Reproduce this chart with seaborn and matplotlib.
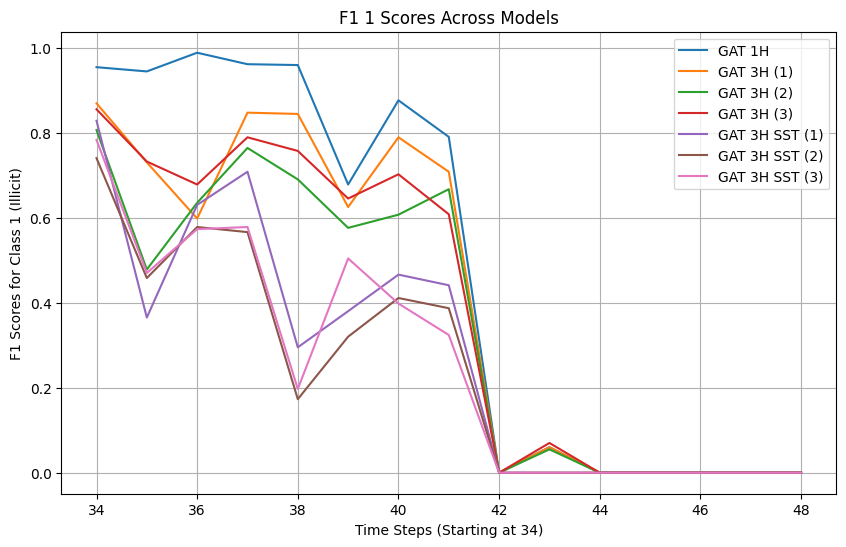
import numpy as np
import pandas as pd
import matplotlib
matplotlib.use("Agg")
import matplotlib.pyplot as plt
import seaborn as sns

## DATA
time_steps = list(range(34, 49))
gat_1h = [0.954, 0.944, 0.988, 0.961, 0.959, 0.678, 0.876, 0.790, 0.0, 0.060, 0, 0, 0, 0, 0]
gat_3h_1 = [0.869, 0.730, 0.598, 0.847, 0.844, 0.625, 0.789, 0.708, 0.0, 0.060, 0, 0, 0, 0, 0]
gat_3h_2 = [0.806, 0.478, 0.635, 0.764, 0.690, 0.576, 0.607, 0.667, 0.0, 0.055, 0, 0, 0, 0, 0]
gat_3h_3 = [0.855, 0.732, 0.678, 0.789, 0.757, 0.645, 0.702, 0.608, 0.0, 0.070, 0, 0, 0, 0, 0]
gat_3h_sst_1 = [0.828, 0.365, 0.630, 0.708, 0.295, 0.380, 0.466, 0.441, 0.0, 0.0, 0, 0, 0, 0, 0]
gat_3h_sst_2 = [0.740, 0.458, 0.578, 0.566, 0.173, 0.320, 0.411, 0.387, 0.0, 0.0, 0, 0, 0, 0, 0]
gat_3h_sst_3 = [0.783, 0.470, 0.573, 0.578, 0.197, 0.504, 0.398, 0.324, 0.0, 0.0, 0, 0, 0, 0, 0]

series = {
    "GAT 1H": gat_1h,
    "GAT 3H (1)": gat_3h_1,
    "GAT 3H (2)": gat_3h_2,
    "GAT 3H (3)": gat_3h_3,
    "GAT 3H SST (1)": gat_3h_sst_1,
    "GAT 3H SST (2)": gat_3h_sst_2,
    "GAT 3H SST (3)": gat_3h_sst_3,
}


def main():
    fig, ax = plt.subplots(figsize=(10, 6))
    for name, vals in series.items():
        sns.lineplot(x=time_steps, y=vals, label=name, ax=ax)
    ax.set_title("F1 1 Scores Across Models")
    ax.set_xlabel("Time Steps (Starting at 34)")
    ax.set_ylabel("F1 Scores for Class 1 (Illicit)")
    ax.grid(True)
    ax.legend(loc="upper right")
    plt.savefig("out.png", bbox_inches="tight")


if __name__ == "__main__":
    main()
